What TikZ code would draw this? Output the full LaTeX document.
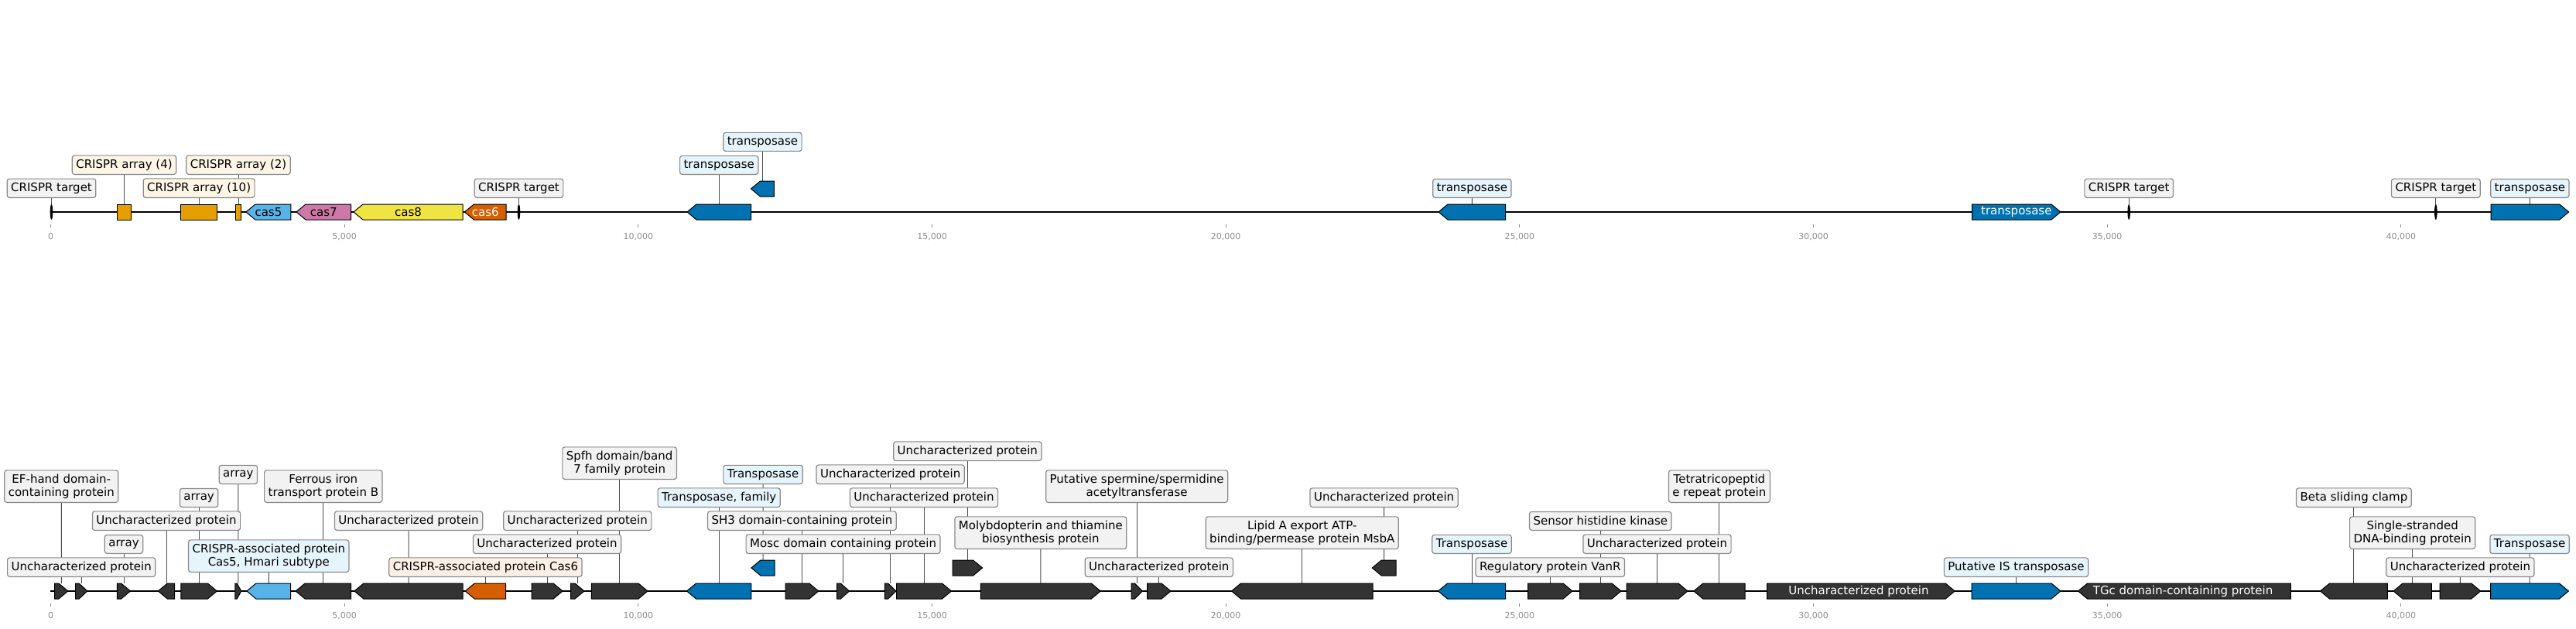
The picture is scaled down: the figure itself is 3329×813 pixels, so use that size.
\documentclass[tikz,border=0pt]{standalone}
\usepackage{fontspec}
\setmainfont{DejaVu Sans}

\definecolor{darkgene}{HTML}{333333}
\definecolor{casblue}{HTML}{56B4E9}
\definecolor{tnpblue}{HTML}{0072B2}
\definecolor{caspink}{HTML}{CC79A7}
\definecolor{casyellow}{HTML}{F0E442}
\definecolor{casorange}{HTML}{D55E00}
\definecolor{arrayorange}{HTML}{E69F00}
\definecolor{boxgray}{HTML}{F2F2F2}
\definecolor{boxblue}{HTML}{E6F4FC}
\definecolor{boxcream}{HTML}{FDF6E6}
\definecolor{boxpeach}{HTML}{FCEFE5}
\definecolor{boxedge}{HTML}{8A8A8A}
\definecolor{linkgray}{HTML}{4D4D4D}
\definecolor{tickgray}{HTML}{8C8C8C}

\pgfdeclarelayer{background}
\pgfsetlayers{background,main}

\tikzset{
  dna/.style={line width=2pt, black},
  gene/.style={line width=1pt, draw=black},
  lbl/.style={draw=boxedge, line width=1.2pt, rounded corners=3pt, fill=boxgray,
    inner xsep=5pt, inner ysep=5pt, minimum height=24pt, align=center, anchor=south,
    font=\fontsize{15}{17}\selectfont},
  conn/.style={line width=1pt, linkgray},
  tickmark/.style={line width=1pt, tickgray},
  ticklbl/.style={text=tickgray, font=\fontsize{11}{13}\selectfont, inner sep=0pt},
  intext/.style={font=\fontsize{15}{17}\selectfont, inner sep=0pt},
  target/.style={fill=black}
}

% gene arrows: name, start, end, row, fill
\newcommand{\geneR}[5]{%
  \pgfmathsetmacro{\hd}{min(12,0.7*(#3-#2))}%
  \draw[gene, fill=#5] (#2,#4-10) -- (#3-\hd,#4-10) -- (#3,#4) -- (#3-\hd,#4+10) -- (#2,#4+10) -- cycle;
  \coordinate (#1) at ({(#2+#3)/2},#4-10);}
\newcommand{\geneL}[5]{%
  \pgfmathsetmacro{\hd}{min(12,0.7*(#3-#2))}%
  \draw[gene, fill=#5] (#3,#4-10) -- (#2+\hd,#4-10) -- (#2,#4) -- (#2+\hd,#4+10) -- (#3,#4+10) -- cycle;
  \coordinate (#1) at ({(#2+#3)/2},#4-10);}
\newcommand{\geneBox}[5]{%
  \draw[gene, fill=#5] (#2,#4-10) rectangle (#3,#4+10);
  \coordinate (#1) at ({(#2+#3)/2},#4-10);}

\begin{document}
\begin{tikzpicture}[x=1pt,y=-1pt]
\useasboundingbox (0,0) rectangle (3329,813);

% ---------- top track ----------
\coordinate (tstart) at (66.5,274);
\coordinate (tend) at (3319,274);
\begin{pgfonlayer}{background}
\draw[dna] (tstart) -- (tend);
\end{pgfonlayer}

\draw[tickmark] (65.6,290) -- (65.6,294) node[ticklbl, below=7pt] (tk0) {0};
\draw[tickmark] (445.2,290) -- (445.2,294) node[ticklbl, below=7pt] (tk1) {5,000};
\draw[tickmark] (824.9,290) -- (824.9,294) node[ticklbl, below=7pt] (tk2) {10,000};
\draw[tickmark] (1204.5,290) -- (1204.5,294) node[ticklbl, below=7pt] (tk3) {15,000};
\draw[tickmark] (1584.2,290) -- (1584.2,294) node[ticklbl, below=7pt] (tk4) {20,000};
\draw[tickmark] (1963.8,290) -- (1963.8,294) node[ticklbl, below=7pt] (tk5) {25,000};
\draw[tickmark] (2343.5,290) -- (2343.5,294) node[ticklbl, below=7pt] (tk6) {30,000};
\draw[tickmark] (2723.1,290) -- (2723.1,294) node[ticklbl, below=7pt] (tk7) {35,000};
\draw[tickmark] (3102.8,290) -- (3102.8,294) node[ticklbl, below=7pt] (tk8) {40,000};

\fill[target] (66.5,274) ellipse (1.8 and 10);
\fill[target] (670.5,274) ellipse (1.8 and 10);
\fill[target] (2751.2,274) ellipse (1.8 and 10);
\fill[target] (3147.8,274) ellipse (1.8 and 10);
\coordinate (tt1) at (66.5,264);
\coordinate (tt2) at (670.5,264);
\coordinate (tt3) at (2751.2,264);
\coordinate (tt4) at (3147.8,264);

\geneBox{tg1}{151.8}{169.2}{274}{arrayorange}
\geneBox{tg2}{233.9}{280.4}{274}{arrayorange}
\geneBox{tg3}{304.5}{311.6}{274}{arrayorange}
\geneL{tg4}{317.9}{375.9}{274}{casblue}
\geneL{tg5}{383}{453.6}{274}{caspink}
\geneL{tg6}{457}{598}{274}{casyellow}
\geneL{tg7}{600.4}{654}{274}{casorange}
\geneL{tg8}{888}{970.5}{274}{tnpblue}
\geneL{tg9}{970.5}{1000.4}{244}{tnpblue}
\geneL{tg10}{1859}{1945.7}{274}{tnpblue}
\geneR{tg11}{2548.6}{2662.9}{274}{tnpblue}
\geneR{tg12}{3219}{3319.7}{274}{tnpblue}

\node[intext] (tin4) at (346.9,274) {cas5};
\node[intext] (tin5) at (418.3,274) {cas7};
\node[intext] (tin6) at (527.5,274) {cas8};
\node[intext, text=white] (tin7) at (627.2,274) {cas6};
\node[intext, text=white] (tin11) at (2605.8,274) {transposase};

\node[lbl] (tl1) at (66.5,256) {CRISPR target};
\node[lbl, fill=boxcream] (tl2) at (160.5,226) {CRISPR array (4)};
\node[lbl, fill=boxcream] (tl3) at (257.15,256) {CRISPR array (10)};
\node[lbl, fill=boxcream] (tl4) at (308.05,226) {CRISPR array (2)};
\node[lbl] (tl5) at (670.5,256) {CRISPR target};
\node[lbl, fill=boxblue] (tl6) at (929.25,226) {transposase};
\node[lbl, fill=boxblue] (tl7) at (985.45,196) {transposase};
\node[lbl, fill=boxblue] (tl8) at (1902.35,256) {transposase};
\node[lbl] (tl9) at (2751.2,256) {CRISPR target};
\node[lbl] (tl10) at (3147.8,256) {CRISPR target};
\node[lbl, fill=boxblue] (tl11) at (3269.35,256) {transposase};

\begin{pgfonlayer}{background}
\draw[conn] (tl1.south) -- (tt1);
\draw[conn] (tl2.south) -- (tg1);
\draw[conn] (tl3.south) -- (tg2);
\draw[conn] (tl4.south) -- (tg3);
\draw[conn] (tl5.south) -- (tt2);
\draw[conn] (tl6.south) -- (tg8);
\draw[conn] (tl7.south) -- (tg9);
\draw[conn] (tl8.south) -- (tg10);
\draw[conn] (tl9.south) -- (tt3);
\draw[conn] (tl10.south) -- (tt4);
\draw[conn] (tl11.south) -- (tg12);
\end{pgfonlayer}

% ---------- bottom track ----------
\coordinate (bstart) at (65.4,764);
\coordinate (bend) at (3319,764);
\begin{pgfonlayer}{background}
\draw[dna] (bstart) -- (bend);
\end{pgfonlayer}

\draw[tickmark] (65.6,780) -- (65.6,784) node[ticklbl, below=7pt] (bk0) {0};
\draw[tickmark] (445.2,780) -- (445.2,784) node[ticklbl, below=7pt] (bk1) {5,000};
\draw[tickmark] (824.9,780) -- (824.9,784) node[ticklbl, below=7pt] (bk2) {10,000};
\draw[tickmark] (1204.5,780) -- (1204.5,784) node[ticklbl, below=7pt] (bk3) {15,000};
\draw[tickmark] (1584.2,780) -- (1584.2,784) node[ticklbl, below=7pt] (bk4) {20,000};
\draw[tickmark] (1963.8,780) -- (1963.8,784) node[ticklbl, below=7pt] (bk5) {25,000};
\draw[tickmark] (2343.5,780) -- (2343.5,784) node[ticklbl, below=7pt] (bk6) {30,000};
\draw[tickmark] (2723.1,780) -- (2723.1,784) node[ticklbl, below=7pt] (bk7) {35,000};
\draw[tickmark] (3102.8,780) -- (3102.8,784) node[ticklbl, below=7pt] (bk8) {40,000};

\geneR{bg1}{70.7}{87.9}{764}{darkgene}
\geneR{bg2}{97.5}{112.9}{764}{darkgene}
\geneR{bg3}{151.4}{168.6}{764}{darkgene}
\geneL{bg4}{204.3}{225.7}{764}{darkgene}
\geneR{bg5}{233.9}{280.4}{764}{darkgene}
\geneR{bg6}{303.9}{311.8}{764}{darkgene}
\geneL{bg7}{318.9}{375.7}{764}{casblue}
\geneL{bg8}{382.1}{453.6}{764}{darkgene}
\geneL{bg9}{457.9}{598.2}{764}{darkgene}
\geneL{bg10}{601.2}{653.7}{764}{casorange}
\geneR{bg11}{687}{727.1}{764}{darkgene}
\geneR{bg12}{737.5}{755}{764}{darkgene}
\geneR{bg13}{764.3}{837}{764}{darkgene}
\geneL{bg14}{887.5}{970.9}{764}{tnpblue}
\geneL{bg15}{970.9}{1001.2}{734}{tnpblue}
\geneR{bg16}{1015}{1057.8}{764}{darkgene}
\geneR{bg17}{1081.5}{1097.6}{764}{darkgene}
\geneR{bg18}{1143.3}{1158}{764}{darkgene}
\geneR{bg19}{1158.5}{1229.5}{764}{darkgene}
\geneR{bg20}{1231}{1269.6}{734}{darkgene}
\geneR{bg21}{1267.4}{1422.3}{764}{darkgene}
\geneR{bg22}{1462}{1476.3}{764}{darkgene}
\geneR{bg23}{1482.6}{1513}{764}{darkgene}
\geneL{bg24}{1591.5}{1774}{764}{darkgene}
\geneL{bg25}{1773.2}{1804}{734}{darkgene}
\geneL{bg27}{1858.5}{1945.5}{764}{tnpblue}
\geneR{bg28}{1974.6}{2032}{764}{darkgene}
\geneR{bg29}{2041.5}{2095}{764}{darkgene}
\geneR{bg30}{2102}{2181}{764}{darkgene}
\geneL{bg31}{2188.8}{2255}{764}{darkgene}
\geneR{bg32}{2283.5}{2526.2}{764}{darkgene}
\geneR{bg33}{2548}{2663}{764}{tnpblue}
\geneL{bg34}{2685.5}{2960.4}{764}{darkgene}
\geneL{bg35}{2998.4}{3085.4}{764}{darkgene}
\geneL{bg36}{3093}{3142.3}{764}{darkgene}
\geneR{bg37}{3153}{3205.7}{764}{darkgene}
\geneR{bg38}{3218.7}{3319.4}{764}{tnpblue}

\node[intext, text=white] (bin32) at (2402,764) {Uncharacterized protein};
\node[intext, text=white] (bin34) at (2821,764) {TGc domain-containing protein};

\node[lbl] (bl1) at (79.3,650) {EF-hand domain-\\containing protein};
\node[lbl] (bl2) at (105.2,746) {Uncharacterized protein};
\node[lbl] (bl3) at (160,716) {array};
\node[lbl] (bl4) at (215,686) {Uncharacterized protein};
\node[lbl] (bl5) at (257.15,656) {array};
\node[lbl] (bl6) at (307.85,626) {array};
\node[lbl, fill=boxblue] (bl7) at (347.3,740) {CRISPR-associated protein\\Cas5, Hmari subtype};
\node[lbl] (bl8) at (417.85,650) {Ferrous iron\\transport protein B};
\node[lbl] (bl9) at (528.05,686) {Uncharacterized protein};
\node[lbl, fill=boxpeach] (bl10) at (627.45,746) {CRISPR-associated protein Cas6};
\node[lbl] (bl11) at (707.05,716) {Uncharacterized protein};
\node[lbl] (bl12) at (746.25,686) {Uncharacterized protein};
\node[lbl] (bl13) at (800.65,620) {Spfh domain/band\\7 family protein};
\node[lbl, fill=boxblue] (bl14) at (929.2,656) {Transposase, family};
\node[lbl, fill=boxblue] (bl15) at (986.05,626) {Transposase};
\node[lbl] (bl16) at (1036.4,686) {SH3 domain-containing protein};
\node[lbl] (bl17) at (1089.55,716) {Mosc domain containing protein};
\node[lbl] (bl18) at (1150.65,626) {Uncharacterized protein};
\node[lbl] (bl19) at (1194,656) {Uncharacterized protein};
\node[lbl] (bl20) at (1250.3,596) {Uncharacterized protein};
\node[lbl] (bl21) at (1344.85,710) {Molybdopterin and thiamine\\biosynthesis protein};
\node[lbl] (bl22) at (1469.15,650) {Putative spermine/spermidine\\acetyltransferase};
\node[lbl] (bl23) at (1497.8,746) {Uncharacterized protein};
\node[lbl] (bl24) at (1682.75,710) {Lipid A export ATP-\\binding/permease protein MsbA};
\node[lbl] (bl25) at (1788.6,656) {Uncharacterized protein};
\node[lbl, fill=boxblue] (bl27) at (1902,716) {Transposase};
\node[lbl] (bl28) at (2003.3,746) {Regulatory protein VanR};
\node[lbl] (bl29) at (2068.25,686) {Sensor histidine kinase};
\node[lbl] (bl30) at (2141.5,716) {Uncharacterized protein};
\node[lbl] (bl31) at (2221.9,650) {Tetratricopeptid\\e repeat protein};
\node[lbl, fill=boxblue] (bl33) at (2605.5,746) {Putative IS transposase};
\node[lbl] (bl35) at (3041.9,656) {Beta sliding clamp};
\node[lbl] (bl36) at (3117.65,710) {Single-stranded\\DNA-binding protein};
\node[lbl] (bl37) at (3179.35,746) {Uncharacterized protein};
\node[lbl, fill=boxblue] (bl38) at (3269.05,716) {Transposase};

\begin{pgfonlayer}{background}
\draw[conn] (bl1.south) -- (bg1);
\draw[conn] (bl2.south) -- (bg2);
\draw[conn] (bl3.south) -- (bg3);
\draw[conn] (bl4.south) -- (bg4);
\draw[conn] (bl5.south) -- (bg5);
\draw[conn] (bl6.south) -- (bg6);
\draw[conn] (bl7.south) -- (bg7);
\draw[conn] (bl8.south) -- (bg8);
\draw[conn] (bl9.south) -- (bg9);
\draw[conn] (bl10.south) -- (bg10);
\draw[conn] (bl11.south) -- (bg11);
\draw[conn] (bl12.south) -- (bg12);
\draw[conn] (bl13.south) -- (bg13);
\draw[conn] (bl14.south) -- (bg14);
\draw[conn] (bl15.south) -- (bg15);
\draw[conn] (bl16.south) -- (bg16);
\draw[conn] (bl17.south) -- (bg17);
\draw[conn] (bl18.south) -- (bg18);
\draw[conn] (bl19.south) -- (bg19);
\draw[conn] (bl20.south) -- (bg20);
\draw[conn] (bl21.south) -- (bg21);
\draw[conn] (bl22.south) -- (bg22);
\draw[conn] (bl23.south) -- (bg23);
\draw[conn] (bl24.south) -- (bg24);
\draw[conn] (bl25.south) -- (bg25);
\draw[conn] (bl27.south) -- (bg27);
\draw[conn] (bl28.south) -- (bg28);
\draw[conn] (bl29.south) -- (bg29);
\draw[conn] (bl30.south) -- (bg30);
\draw[conn] (bl31.south) -- (bg31);
\draw[conn] (bl33.south) -- (bg33);
\draw[conn] (bl35.south) -- (bg35);
\draw[conn] (bl36.south) -- (bg36);
\draw[conn] (bl37.south) -- (bg37);
\draw[conn] (bl38.south) -- (bg38);
\end{pgfonlayer}

\end{tikzpicture}
\end{document}
